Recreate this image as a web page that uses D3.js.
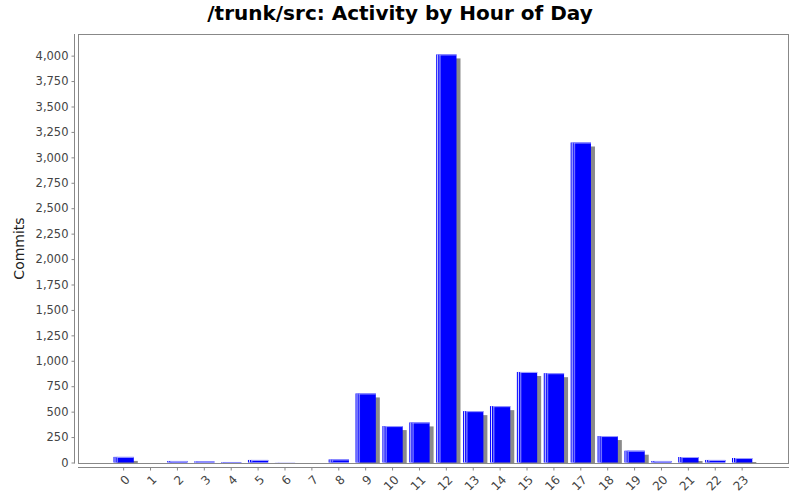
<!DOCTYPE html>
<html>
<head>
<meta charset="utf-8">
<script src="https://cdn.jsdelivr.net/npm/d3@7"></script>
<style>
  html, body { margin: 0; padding: 0; background: #fff; }
  svg { display: block; }
</style>
</head>
<body>
<svg id="chart" width="800" height="500"></svg>
<script>
const title = "/trunk/src: Activity by Hour of Day";
const yLabel = "Commits";
const hours = ["0","1","2","3","4","5","6","7","8","9","10","11","12","13","14","15","16","17","18","19","20","21","22","23"];
const commits = [55, 0, 15, 10, 5, 25, 1, 0, 30, 679, 358, 394, 4012, 505, 554, 890, 878, 3146, 260, 116, 15, 54, 25, 44];
const yTicks = [0, 250, 500, 750, 1000, 1250, 1500, 1750, 2000, 2250, 2500, 2750, 3000, 3250, 3500, 3750, 4000];

const svg = d3.select("#chart");
const plot = { left: 78, right: 788, top: 34, bottom: 463 };

const x = d3.scaleBand()
  .domain(hours)
  .range([110.2, 755.6])
  .paddingInner(0.245)
  .paddingOuter(0.1225);

const y = d3.scaleLinear()
  .domain([0, d3.max(commits) * 1.05])
  .range([462.5, plot.top]);

// title
svg.append("text")
  .attr("x", 400).attr("y", 20)
  .attr("text-anchor", "middle")
  .attr("font-family", "DejaVu Sans, sans-serif")
  .attr("font-weight", "bold")
  .attr("font-size", 20)
  .attr("fill", "#000")
  .text(title);

// plot background & border
svg.append("rect")
  .attr("x", plot.left + 0.5).attr("y", plot.top + 0.5)
  .attr("width", plot.right - plot.left).attr("height", plot.bottom - plot.top)
  .attr("fill", "#fff").attr("stroke", "#888").attr("stroke-width", 1);

svg.append("clipPath").attr("id", "plotclip")
  .append("rect")
  .attr("x", plot.left + 1).attr("y", plot.top + 1)
  .attr("width", plot.right - plot.left - 1).attr("height", plot.bottom - plot.top - 0.5);

const g = svg.append("g").attr("clip-path", "url(#plotclip)");
const data = hours.map((h, i) => ({ h, v: commits[i] }));

// shadows
g.selectAll("rect.shadow").data(data).join("rect")
  .attr("class", "shadow")
  .attr("x", d => x(d.h) + 4)
  .attr("y", d => y(d.v) + 4)
  .attr("width", x.bandwidth())
  .attr("height", d => Math.max(0, y(0) - y(d.v)))
  .attr("fill", "#8a8a8a");

// bars
g.selectAll("rect.bar").data(data).join("rect")
  .attr("class", "bar")
  .attr("x", d => x(d.h))
  .attr("y", d => y(d.v))
  .attr("width", x.bandwidth())
  .attr("height", d => Math.max(0, y(0) - y(d.v)))
  .attr("fill", "#0000ff");

// highlight stripes
const nz = data.filter(d => d.v > 0);
g.selectAll("rect.hl1").data(nz).join("rect")
  .attr("class", "hl1")
  .attr("x", d => x(d.h) + 1)
  .attr("y", d => y(d.v))
  .attr("width", 1)
  .attr("height", d => Math.max(0, y(0) - y(d.v)))
  .attr("fill", "#e0e0ff");
g.selectAll("rect.hl2").data(nz).join("rect")
  .attr("class", "hl2")
  .attr("x", d => x(d.h) + 3)
  .attr("y", d => y(d.v))
  .attr("width", 1.5)
  .attr("height", d => Math.max(0, y(0) - y(d.v)))
  .attr("fill", "#7070ff");
g.selectAll("rect.hltop").data(nz).join("rect")
  .attr("class", "hltop")
  .attr("x", d => x(d.h) + 3)
  .attr("y", d => y(d.v))
  .attr("width", x.bandwidth() - 3)
  .attr("height", d => Math.min(1, y(0) - y(d.v)))
  .attr("fill", "#a0a0ff");

// y axis
const yAxis = d3.axisLeft(y).tickValues(yTicks).tickSize(3).tickPadding(3)
  .tickFormat(d3.format(","));
const yg = svg.append("g").attr("transform", "translate(74.5,0)").call(yAxis);
yg.select(".domain").attr("d", `M0,${plot.top}V${plot.bottom + 0.5}`).attr("stroke", "#888");
yg.selectAll(".tick line").attr("stroke", "#888");
yg.selectAll(".tick text")
  .attr("font-family", "DejaVu Sans, sans-serif")
  .attr("font-size", 11.5)
  .attr("fill", "#444");

// x axis
const xAxis = d3.axisBottom(x).tickSize(3).tickFormat(d => d);
const xg = svg.append("g").attr("transform", "translate(0,467.5)").call(xAxis);
xg.select(".domain").attr("d", `M${plot.left},0H${plot.right + 1}`).attr("stroke", "#888");
xg.selectAll(".tick line").attr("stroke", "#888");
xg.selectAll(".tick text")
  .attr("font-family", "DejaVu Sans, sans-serif")
  .attr("font-size", 12)
  .attr("fill", "#444")
  .attr("text-anchor", "end")
  .attr("dy", "0.35em")
  .attr("y", 0)
  .attr("transform", "translate(4,10) rotate(-45)");

// y label
svg.append("text")
  .attr("transform", `translate(24,${(plot.top + plot.bottom) / 2}) rotate(-90)`)
  .attr("text-anchor", "middle")
  .attr("font-family", "DejaVu Sans, sans-serif")
  .attr("font-size", 14)
  .attr("fill", "#222")
  .text(yLabel);
</script>
</body>
</html>
